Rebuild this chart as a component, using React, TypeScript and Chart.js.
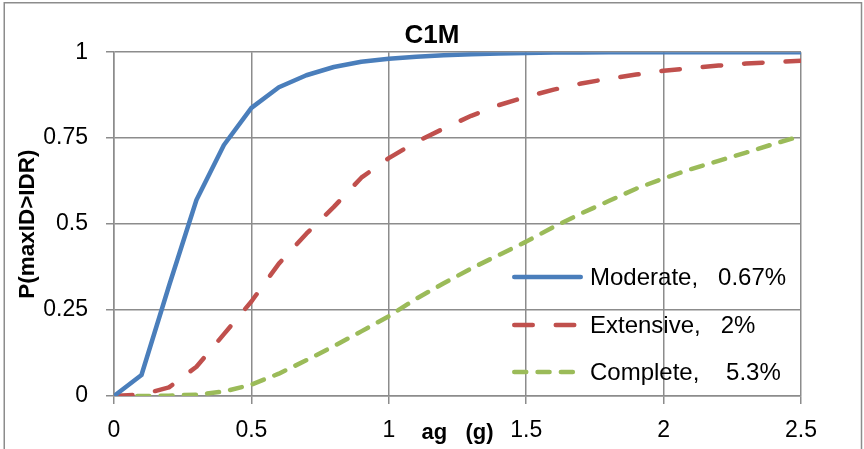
import React, { useEffect, useRef } from "react";
import { Chart, registerables } from "chart.js";

Chart.register(...registerables);

const TITLE = "C1M";
const X_TITLE = "ag   (g)";
const Y_TITLE = "P(maxID>IDR)";

const AG = [0, 0.1, 0.2, 0.3, 0.4, 0.5, 0.6, 0.7, 0.8, 0.9, 1.0, 1.1, 1.2, 1.3, 1.4, 1.5, 1.6, 1.7, 1.8, 1.9, 2.0, 2.1, 2.2, 2.3, 2.4, 2.5];

const MODERATE = [0, 0.061, 0.32, 0.57, 0.73, 0.838, 0.898, 0.933, 0.957, 0.972, 0.981, 0.987, 0.991, 0.994, 0.996, 0.998, 0.999, 0.999, 1, 1, 1, 1, 1, 1, 1, 1];
const EXTENSIVE = [0, 0.004, 0.025, 0.085, 0.18, 0.275, 0.385, 0.472, 0.55, 0.635, 0.692, 0.739, 0.778, 0.815, 0.846, 0.87, 0.891, 0.909, 0.923, 0.935, 0.946, 0.954, 0.961, 0.967, 0.971, 0.975];
const COMPLETE = [0, 0, 0.001, 0.004, 0.013, 0.033, 0.065, 0.104, 0.145, 0.188, 0.232, 0.283, 0.328, 0.371, 0.41, 0.449, 0.492, 0.531, 0.567, 0.603, 0.633, 0.66, 0.684, 0.708, 0.733, 0.756];

const SERIES_LABELS = ["Moderate,   0.67%", "Extensive,   2%", "Complete,    5.3%"];

const X_TICKS = [0, 0.5, 1, 1.5, 2, 2.5];
const Y_TICKS = [0, 0.25, 0.5, 0.75, 1];

const FONT = "'Liberation Sans', Arial, sans-serif";
const GRID = "#8c8c8c";

const toPoints = (ys: number[]) => ys.map((y, i) => ({ x: AG[i], y }));

const insideLegend = {
  id: "insideLegend",
  afterDatasetsDraw(chart: any) {
    const { ctx, chartArea } = chart;
    const rowsFromBottom = [119, 71, 24];
    const x0 = chartArea.right - 289;
    const x1 = chartArea.right - 218;
    const tx = chartArea.right - 211;
    ctx.save();
    chart.data.datasets.forEach((ds: any, i: number) => {
      const y = chartArea.bottom - rowsFromBottom[i];
      const w = ds.borderWidth;
      ctx.beginPath();
      ctx.strokeStyle = ds.borderColor;
      ctx.lineWidth = w;
      ctx.lineCap = "round";
      ctx.setLineDash(ds.borderDash || []);
      ctx.moveTo(x0 + w / 2, y);
      ctx.lineTo(x1 - w / 2, y);
      ctx.stroke();
      ctx.setLineDash([]);
      ctx.fillStyle = "#000";
      ctx.font = `24px ${FONT}`;
      ctx.textAlign = "left";
      ctx.textBaseline = "middle";
      ctx.fillText(ds.label, tx, y + 1);
    });
    ctx.restore();
  },
};

const outerBorder = {
  id: "outerBorder",
  beforeDraw(chart: any) {
    const { ctx } = chart;
    ctx.save();
    ctx.fillStyle = "#fff";
    ctx.fillRect(0, 0, chart.width, chart.height);
    ctx.strokeStyle = GRID;
    ctx.lineWidth = 1.5;
    ctx.strokeRect(4.25, 2.75, 857.25, 600);
    ctx.restore();
  },
};

export default function App() {
  const ref = useRef<HTMLCanvasElement | null>(null);

  useEffect(() => {
    if (!ref.current) return;
    const chart = new Chart(ref.current, {
      type: "line",
      data: {
        datasets: [
          {
            label: SERIES_LABELS[0],
            data: toPoints(MODERATE),
            borderColor: "#4a7ebb",
            borderWidth: 4.5,
            borderCapStyle: "round",
            borderJoinStyle: "round",
            pointRadius: 0,
            tension: 0,
            fill: false,
          },
          {
            label: SERIES_LABELS[1],
            data: toPoints(EXTENSIVE),
            borderColor: "#c0504d",
            borderWidth: 4.5,
            borderDash: [18.5, 23],
            borderCapStyle: "round",
            borderJoinStyle: "round",
            pointRadius: 0,
            tension: 0,
            fill: false,
          },
          {
            label: SERIES_LABELS[2],
            data: toPoints(COMPLETE),
            borderColor: "#9bbb59",
            borderWidth: 4.5,
            borderDash: [12, 11.3],
            borderCapStyle: "round",
            borderJoinStyle: "round",
            pointRadius: 0,
            tension: 0,
            fill: false,
          },
        ],
      },
      options: {
        animation: false,
        responsive: true,
        maintainAspectRatio: false,
        layout: { padding: { left: 0, right: 0, top: 0, bottom: 0 } },
        plugins: {
          legend: { display: false },
          tooltip: { enabled: false },
          title: {
            display: true,
            text: TITLE,
            color: "#000",
            font: { family: FONT, size: 26, weight: "bold" },
            padding: { top: 20, bottom: 1 },
          },
        },
        scales: {
          x: {
            type: "linear",
            min: 0,
            max: 2.5,
            afterFit: (s: any) => {
              s.height = 53;
            },
            afterBuildTicks: (s: any) => {
              s.ticks = X_TICKS.map((v) => ({ value: v }));
            },
            ticks: {
              callback: (v: any) => String(v),
              color: "#000",
              font: { family: FONT, size: 23 },
              padding: 13,
              maxRotation: 0,
              autoSkip: false,
            },
            grid: { color: GRID, lineWidth: 1.5, tickLength: 8, drawTicks: true },
            border: { color: GRID, width: 1.5 },
            title: {
              display: true,
              text: X_TITLE,
              color: "#000",
              font: { family: FONT, size: 22, weight: "bold" },
              padding: { top: 0, bottom: 3 },
            },
          },
          y: {
            type: "linear",
            min: 0,
            max: 1,
            afterFit: (s: any) => {
              s.width = 114;
            },
            afterBuildTicks: (s: any) => {
              s.ticks = Y_TICKS.map((v) => ({ value: v }));
            },
            ticks: {
              callback: (v: any) => String(v),
              color: "#000",
              font: { family: FONT, size: 23 },
              padding: 18,
              autoSkip: false,
            },
            grid: { color: GRID, lineWidth: 1.5, tickLength: 8, drawTicks: true },
            border: { color: GRID, width: 1.5 },
            title: {
              display: true,
              text: Y_TITLE,
              color: "#000",
              font: { family: FONT, size: 22.5, weight: "bold" },
              padding: { top: 14, bottom: 0 },
            },
          },
          spacer: {
            type: "linear",
            position: "right",
            display: true,
            afterFit: (s: any) => {
              s.width = 63;
            },
            ticks: { display: false },
            grid: { display: false, drawTicks: false },
            border: { display: false },
          },
        },
      },
      plugins: [outerBorder, insideLegend],
    });
    return () => chart.destroy();
  }, []);

  return (
    <div style={{ position: "absolute", left: 0, top: 0, width: 864, height: 449 }}>
      <canvas ref={ref} />
    </div>
  );
}
